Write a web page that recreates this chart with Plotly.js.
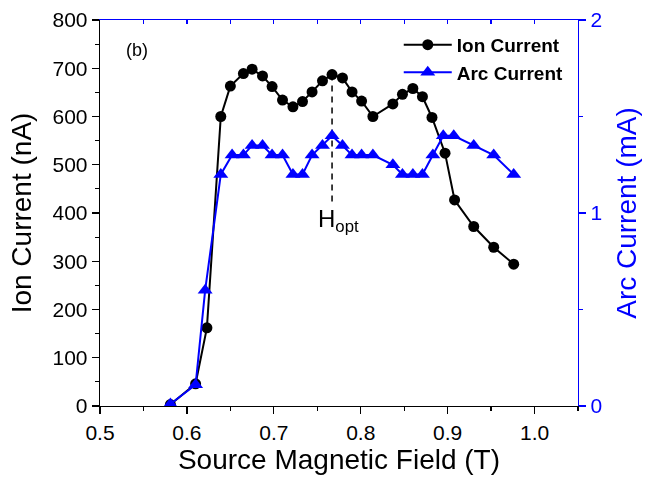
<!DOCTYPE html>
<html>
<head>
<meta charset="utf-8">
<script src="https://cdn.plot.ly/plotly-3.0.1.min.js"></script>
<style>html,body{margin:0;padding:0;background:#fff;}#chart{width:645px;height:485px;}</style>
</head>
<body>
<div id="chart"></div>
<script>
// Ion current (nA) vs source magnetic field (T)
const ionField = [0.581, 0.610, 0.623, 0.639, 0.650, 0.665, 0.675, 0.687, 0.698, 0.710, 0.722, 0.733, 0.744, 0.756, 0.767, 0.779, 0.790, 0.801, 0.814, 0.837, 0.848, 0.860, 0.871, 0.882, 0.897, 0.908, 0.930, 0.953, 0.976];
const ionCurrent = [3, 46, 162, 600, 663, 689, 698, 684, 662, 634, 620, 631, 651, 674, 687, 680, 651, 632, 600, 626, 646, 658, 641, 598, 524, 427, 372, 329, 294];
// Arc current (mA) vs source magnetic field (T)
const arcField = [0.581, 0.610, 0.621, 0.639, 0.652, 0.665, 0.675, 0.687, 0.698, 0.710, 0.722, 0.733, 0.744, 0.756, 0.767, 0.779, 0.790, 0.801, 0.814, 0.837, 0.848, 0.860, 0.871, 0.883, 0.895, 0.907, 0.930, 0.953, 0.976];
const arcCurrent = [0.01, 0.11, 0.60, 1.20, 1.30, 1.30, 1.35, 1.35, 1.30, 1.30, 1.20, 1.20, 1.30, 1.35, 1.40, 1.35, 1.30, 1.30, 1.30, 1.25, 1.20, 1.20, 1.20, 1.30, 1.40, 1.40, 1.35, 1.30, 1.20];
// H_opt marker line
const hoptX = [0.767, 0.767];
const hoptY = [687, 420];
const xTickVals = [0.5, 0.6, 0.7, 0.8, 0.9, 1.0];
const xTickText = ['0.5', '0.6', '0.7', '0.8', '0.9', '1.0'];

const FONT = 'Liberation Sans, Arial, Helvetica, sans-serif';
const BLUE = '#0000ff';

const traces = [
  {x: hoptX, y: hoptY, mode: 'lines', line: {color: '#000', width: 1.5, dash: '6px,5px'}, showlegend: false, hoverinfo: 'skip'},
  {x: ionField, y: ionCurrent, name: 'Ion Current', mode: 'lines+markers',
   line: {color: '#000', width: 2}, marker: {symbol: 'circle', size: 11, color: '#000'}},
  {x: arcField, y: arcCurrent, name: 'Arc Current', mode: 'lines+markers', yaxis: 'y2',
   line: {color: BLUE, width: 2}, marker: {symbol: 'triangle-up', size: 13, color: BLUE}},
  {x: ionField, y: ionCurrent, xaxis: 'x2', mode: 'markers', opacity: 0, showlegend: false, hoverinfo: 'skip', marker: {size: 1}}
];

const layout = {
  width: 645, height: 485,
  margin: {l: 100, r: 67, t: 20, b: 79},
  paper_bgcolor: '#fff', plot_bgcolor: '#fff',
  font: {family: FONT, color: '#000', size: 21},
  showlegend: true,
  legend: {x: 0.625, y: 0.985, xanchor: 'left', yanchor: 'top', bgcolor: 'rgba(0,0,0,0)',
    font: {family: FONT, size: 19, weight: 'bold', color: '#000'}, itemwidth: 48, tracegroupgap: 0},
  xaxis: {range: [0.5, 1.05], tickvals: xTickVals, ticktext: xTickText, ticks: 'outside', ticklen: 7, tickwidth: 1.2,
    tickcolor: '#000', showline: true, linecolor: '#000', linewidth: 1.3, showgrid: false, zeroline: false,
    minor: {dtick: 0.05, tick0: 0.5, ticks: 'outside', ticklen: 4, tickwidth: 1.2, tickcolor: '#000'},
    tickfont: {size: 21}, title: {text: 'Source Magnetic Field (T)', font: {size: 28}, standoff: 7}},
  xaxis2: {overlaying: 'x', side: 'top', range: [0.5, 1.05], dtick: 0.05, tick0: 0.5, ticks: 'inside', ticklen: 4,
    tickwidth: 1.2, tickcolor: BLUE, showline: true, linecolor: BLUE, linewidth: 1.3, showticklabels: false,
    showgrid: false, zeroline: false},
  yaxis: {range: [0, 800], dtick: 100, ticks: 'outside', ticklen: 7, tickwidth: 1.2, tickcolor: '#000',
    showline: true, linecolor: '#000', linewidth: 1.3, showgrid: false, zeroline: false,
    minor: {dtick: 50, ticks: 'outside', ticklen: 4, tickwidth: 1.2, tickcolor: '#000'},
    tickfont: {size: 21}, title: {text: 'Ion Current (nA)', font: {size: 28}, standoff: 12}},
  yaxis2: {overlaying: 'y', side: 'right', range: [0, 2], dtick: 1, ticks: 'outside', ticklen: 7, tickwidth: 1.2,
    tickcolor: BLUE, showline: true, linecolor: BLUE, linewidth: 1.3, showgrid: false, zeroline: false,
    minor: {dtick: 0.5, ticks: 'outside', ticklen: 4, tickwidth: 1.2, tickcolor: BLUE},
    tickfont: {size: 21, color: BLUE}, title: {text: 'Arc Current (mA)', font: {size: 28, color: BLUE}, standoff: 15}},
  annotations: [
    {xref: 'paper', yref: 'paper', x: 0.05, y: 0.922, xanchor: 'left', yanchor: 'middle', text: '(b)', showarrow: false, font: {size: 18}},
    {xref: 'x', yref: 'y', x: 0.767, y: 385, xanchor: 'center', yanchor: 'middle', xshift: 6, text: 'H<sub>opt</sub>', showarrow: false, font: {size: 24}}
  ]
};

Plotly.newPlot('chart', traces, layout, {displayModeBar: false, staticPlot: true});
</script>
</body>
</html>
